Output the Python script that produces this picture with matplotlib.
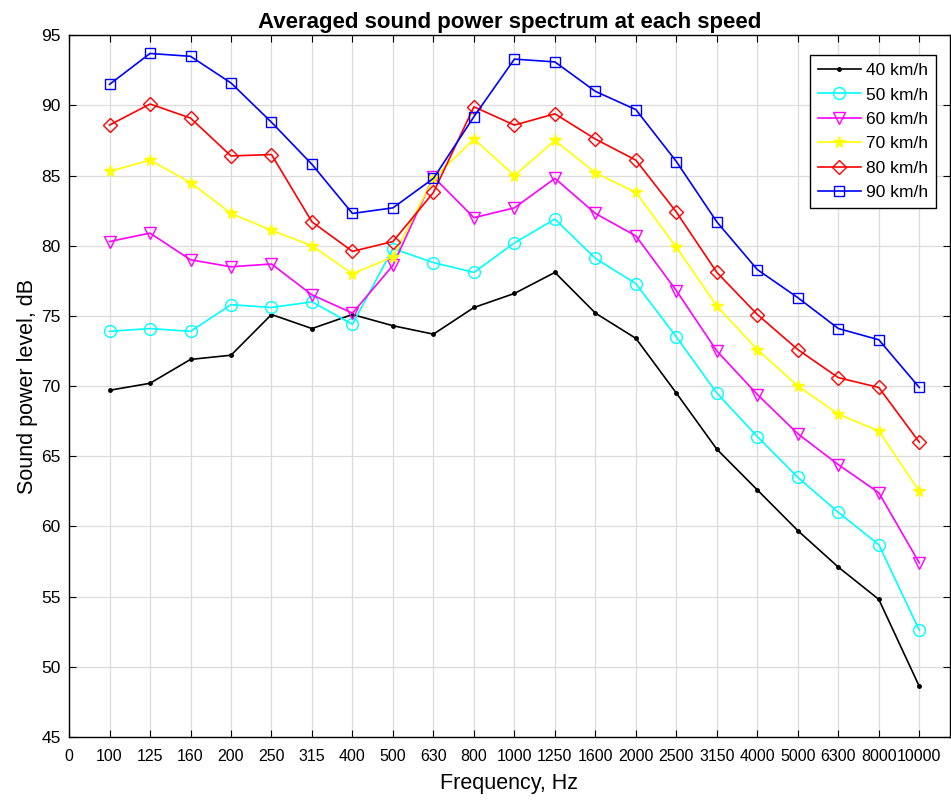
import matplotlib
matplotlib.use('Agg')
import matplotlib.pyplot as plt

plt.rcParams['font.family'] = ['Liberation Sans', 'DejaVu Sans']

freq_labels = ['0', '100', '125', '160', '200', '250', '315', '400', '500', '630', '800',
               '1000', '1250', '1600', '2000', '2500', '3150', '4000', '5000', '6300', '8000', '10000']

spl_40 = [69.7, 70.2, 71.9, 72.2, 75.1, 74.1, 75.1, 74.3, 73.7, 75.6, 76.6,
          78.1, 75.2, 73.4, 69.5, 65.5, 62.6, 59.7, 57.1, 54.8, 48.6]
spl_50 = [73.9, 74.1, 73.9, 75.8, 75.6, 76.0, 74.4, 79.8, 78.8, 78.1, 80.2,
          81.9, 79.1, 77.3, 73.5, 69.5, 66.4, 63.5, 61.0, 58.7, 52.6]
spl_60 = [80.3, 80.9, 79.0, 78.5, 78.7, 76.5, 75.2, 78.6, 84.9, 82.0, 82.7,
          84.8, 82.3, 80.7, 76.8, 72.5, 69.4, 66.6, 64.4, 62.4, 57.4]
spl_70 = [85.3, 86.1, 84.5, 82.3, 81.1, 80.0, 78.0, 79.2, 84.8, 87.6, 85.0,
          87.5, 85.2, 83.8, 79.9, 75.7, 72.6, 70.0, 68.0, 66.8, 62.5]
spl_80 = [88.6, 90.1, 89.1, 86.4, 86.5, 81.7, 79.6, 80.3, 83.8, 89.9, 88.6,
          89.4, 87.6, 86.1, 82.4, 78.1, 75.1, 72.6, 70.6, 69.9, 66.0]
spl_90 = [91.5, 93.7, 93.5, 91.6, 88.8, 85.8, 82.3, 82.7, 84.8, 89.2, 93.3,
          93.1, 91.0, 89.7, 86.0, 81.7, 78.3, 76.3, 74.1, 73.3, 69.9]

x = list(range(1, 22))

fig = plt.figure(figsize=(9.51, 8.01), dpi=100)
ax = fig.add_axes([0.0726, 0.080, 0.926, 0.876])

ax.plot(x, spl_40, '-', color='k', marker='.', markersize=5, lw=1.2, label='40 km/h')
ax.plot(x, spl_50, '-', color='cyan', marker='o', mfc='none', markersize=8.5, lw=1.2, label='50 km/h')
ax.plot(x, spl_60, '-', color='magenta', marker='v', mfc='none', markersize=8.5, lw=1.2, label='60 km/h')
ax.plot(x, spl_70, '-', color='yellow', marker='*', markersize=8.5, lw=1.2, label='70 km/h')
ax.plot(x, spl_80, '-', color='red', marker='D', mfc='none', markersize=7.5, lw=1.2, label='80 km/h')
ax.plot(x, spl_90, '-', color='blue', marker='s', mfc='none', markersize=7.5, lw=1.2, label='90 km/h')

ax.set_xlim(0, 21.75)
ax.set_ylim(45, 95)
ax.set_xticks(range(0, 22))
ax.set_xticklabels(freq_labels, fontsize=11.5)
ax.set_yticks(range(45, 96, 5))
ax.tick_params(axis='y', labelsize=12.5, pad=6)
ax.tick_params(axis='x', pad=9)
ax.tick_params(direction='in', top=True, right=True, length=5)
ax.grid(True, color='#dcdcdc', lw=0.9)
ax.set_axisbelow(True)
for s in ax.spines.values():
    s.set_linewidth(1.0)

ax.set_xlabel('Frequency, Hz', fontsize=15.5, labelpad=6)
ax.set_ylabel('Sound power level, dB', fontsize=15.5, labelpad=2)
ax.set_title('Averaged sound power spectrum at each speed', fontsize=16, fontweight='bold', pad=5)

leg = ax.legend(loc='upper right', bbox_to_anchor=(0.9846, 0.9715), borderaxespad=0,
                fontsize=12.5, fancybox=False, edgecolor='k', framealpha=1,
                handlelength=2.5, labelspacing=0.53, handletextpad=0.3, borderpad=0.45)
leg.get_frame().set_linewidth(1.0)

fig.savefig('out.png', dpi=100)
